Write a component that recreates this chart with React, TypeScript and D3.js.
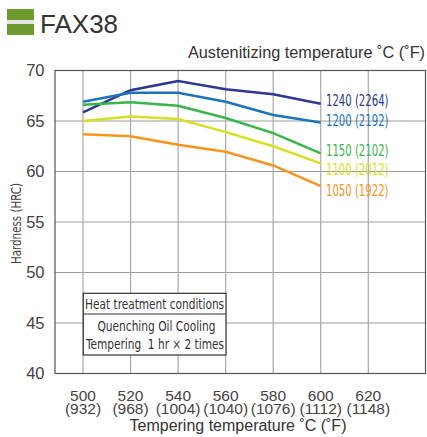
import React from "react";
import * as d3 from "d3";

const temperingC = [500, 520, 540, 560, 580, 600];
const xTicksC = [500, 520, 540, 560, 580, 600, 620];
const xTicksF = ["(932)", "(968)", "(1004)", "(1040)", "(1076)", "(1112)", "(1148)"];
const yTicks = [40, 45, 50, 55, 60, 65, 70];

const h1240 = [65.85, 68.05, 68.95, 68.15, 67.65, 66.7];
const h1200 = [66.9, 67.8, 67.8, 66.9, 65.6, 64.85];
const h1150 = [66.6, 66.85, 66.5, 65.3, 63.8, 61.8];
const h1100 = [65.0, 65.45, 65.2, 63.9, 62.5, 60.8];
const h1050 = [63.7, 63.5, 62.65, 61.95, 60.6, 58.55];

const seriesNames = ["1240 (2264)", "1200 (2192)", "1150 (2102)", "1100 (2012)", "1050 (1922)"];
const seriesValues = [h1240, h1200, h1150, h1100, h1050];
const seriesColors = ["#2b3990", "#1c75bc", "#39b54a", "#d7df23", "#f7941d"];
const labelY = [100.7, 120.7, 150, 169.5, 190];

const narrow = "'Liberation Sans Narrow', 'DejaVu Sans Condensed', sans-serif";
const sans = "'Liberation Sans', Arial, sans-serif";

export default function App() {
  const W = 427, H = 437;
  const x = d3.scaleLinear().domain([500, 620]).range([83, 368.3]);
  const y = d3.scaleLinear().domain([40, 70]).range([373.5, 70.5]);
  const left = 55, right = 425.5;
  const line = d3.line<number>().x((_, i) => x(temperingC[i])).y((d) => y(d));

  return (
    <svg width={W} height={H} style={{ position: "absolute", left: 0, top: 0, background: "#fff" }}>
      {/* header */}
      <rect x={7} y={9} width={27} height={26} fill="#6d9b2f" />
      <rect x={7} y={20} width={27} height={4} fill="#e6e6e6" />
      <text x={40} y={33} fontFamily={sans} fontSize={26} fill="#333">FAX38</text>
      <text x={425} y={58} textAnchor="end" fontFamily={sans} fontSize={16.3} fill="#333">
        Austenitizing temperature ˚C (˚F)
      </text>

      {/* grid */}
      {yTicks.filter((t) => t > 40 && t < 70).map((t) => (
        <line key={"h" + t} x1={left} x2={right} y1={y(t)} y2={y(t)} stroke="#9a9a9a" strokeWidth={1} />
      ))}
      {xTicksC.map((t) => (
        <line key={"v" + t} x1={x(t)} x2={x(t)} y1={y(70)} y2={y(40)} stroke="#a8a8a8" strokeWidth={1.2} />
      ))}
      <rect x={left} y={y(70)} width={right - left} height={y(40) - y(70)} fill="none" stroke="#555" strokeWidth={1.2} />

      {/* y ticks */}
      {yTicks.map((t) => (
        <text key={"yt" + t} x={44.5} y={y(t)} dy="0.36em" textAnchor="end" fontFamily={sans} fontSize={16.5} fill="#444">
          {t}
        </text>
      ))}
      <text transform={`translate(20.5,223.5) rotate(-90)`} textAnchor="middle" fontFamily={narrow} fontSize={13.5}
        textLength={81} lengthAdjust="spacingAndGlyphs" fill="#444">
        Hardness (HRC)
      </text>

      {/* x ticks */}
      {xTicksC.map((t, i) => (
        <g key={"xt" + t}>
          <text x={x(t)} y={401} textAnchor="middle" fontFamily={sans} fontSize={15.5} fill="#444">{t}</text>
          <text x={x(t)} y={414} textAnchor="middle" fontFamily={sans} fontSize={15.5} fill="#444">{xTicksF[i]}</text>
        </g>
      ))}
      <text x={238} y={431} textAnchor="middle" fontFamily={sans} fontSize={16} fill="#333">
        Tempering temperature ˚C (˚F)
      </text>

      {/* lines */}
      {seriesValues.map((vals, i) => (
        <path key={"l" + i} d={line(vals) || ""} fill="none" stroke={seriesColors[i]} strokeWidth={2.5} />
      ))}
      {seriesNames.map((n, i) => (
        <text key={"n" + i} x={326} y={labelY[i]} dy="0.36em" fontFamily={narrow} fontSize={16}
          textLength={62.5} lengthAdjust="spacingAndGlyphs" fill={seriesColors[i]}>
          {n}
        </text>
      ))}

      {/* condition box */}
      <rect x={83.3} y={293.3} width={142.7} height={61.7} fill="#fff" stroke="#333" strokeWidth={1.2} />
      <line x1={83.3} x2={226} y1={314} y2={314} stroke="#333" strokeWidth={1.2} />
      <text x={154.6} y={304} dy="0.36em" textAnchor="middle" fontFamily={narrow} fontSize={14.5}
        textLength={139} lengthAdjust="spacingAndGlyphs" fill="#333">
        Heat treatment conditions
      </text>
      <text x={156.5} y={325.7} dy="0.36em" textAnchor="middle" fontFamily={narrow} fontSize={14.5}
        textLength={118} lengthAdjust="spacingAndGlyphs" fill="#333">
        Quenching Oil Cooling
      </text>
      <text x={155} y={343.5} dy="0.36em" textAnchor="middle" fontFamily={narrow} fontSize={14.5}
        textLength={138} lengthAdjust="spacingAndGlyphs" fill="#333" style={{ whiteSpace: "pre" }}>
        {"Tempering  1 hr × 2 times"}
      </text>
    </svg>
  );
}
